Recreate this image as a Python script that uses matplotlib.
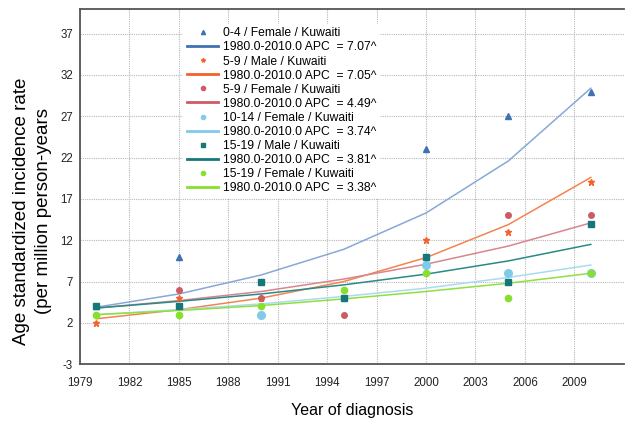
import numpy as np
import matplotlib
matplotlib.use("Agg")
import matplotlib.pyplot as plt
from matplotlib.lines import Line2D

plt.rcParams['font.family'] = ['Liberation Sans', 'DejaVu Sans']
plt.rcParams['axes.unicode_minus'] = False

nan = np.nan
years = [1980, 1985, 1990, 1995, 2000, 2005, 2010]

labels = ["0-4 / Female / Kuwaiti", "5-9 / Male / Kuwaiti", "5-9 / Female / Kuwaiti",
          "10-14 / Female / Kuwaiti", "15-19 / Male / Kuwaiti", "15-19 / Female / Kuwaiti"]
apc_labels = ["1980.0-2010.0 APC  = 7.07^", "1980.0-2010.0 APC  = 7.05^",
              "1980.0-2010.0 APC  = 4.49^", "1980.0-2010.0 APC  = 3.74^",
              "1980.0-2010.0 APC  = 3.81^", "1980.0-2010.0 APC  = 3.38^"]

obs_0_4_f = [4, 10, nan, nan, 23, 27, 30]
obs_5_9_m = [2, 5, 5, nan, 12, 13, 19]
obs_5_9_f = [nan, 6, 5, 3, 10, 15, 15]
obs_10_14_f = [nan, nan, 3, nan, 9, 8, 8]
obs_15_19_m = [4, 4, 7, 5, 10, 7, 14]
obs_15_19_f = [3, 3, 4, 6, 8, 5, 8]

fit_0_4_f = [3.9, 5.5, 7.8, 10.9, 15.3, 21.6, 30.4]
fit_5_9_m = [2.5, 3.6, 5.0, 7.0, 9.9, 13.9, 19.6]
fit_5_9_f = [3.8, 4.7, 5.8, 7.3, 9.1, 11.3, 14.1]
fit_10_14_f = [3.0, 3.6, 4.3, 5.2, 6.2, 7.5, 9.0]
fit_15_19_m = [3.8, 4.6, 5.5, 6.6, 7.9, 9.5, 11.5]
fit_15_19_f = [3.0, 3.5, 4.1, 4.9, 5.8, 6.8, 8.0]

obs = [obs_0_4_f, obs_5_9_m, obs_5_9_f, obs_10_14_f, obs_15_19_m, obs_15_19_f]
fits = [fit_0_4_f, fit_5_9_m, fit_5_9_f, fit_10_14_f, fit_15_19_m, fit_15_19_f]

mcolors = ["#3f72b3", "#f4622a", "#cc5b66", "#80cbea", "#16777a", "#86e02d"]
lcolors = ["#86a9d6", "#f4844f", "#d7868c", "#a9dbf0", "#2a8a86", "#8fe03e"]
markers = ["^", "*", "o", "o", "s", "o"]
msizes = [4.5, 4.5, 4, 5.5, 4.5, 4.5]

yticks = [-3, 2, 7, 12, 17, 22, 27, 32, 37]
xticks = [1979, 1982, 1985, 1988, 1991, 1994, 1997, 2000, 2003, 2006, 2009]

fig = plt.figure(figsize=(6.25, 4.23), dpi=100)
ax = fig.add_axes([0.128, 0.139, 0.870, 0.840])

handles = []
hlabels = []
for i in range(6):
    ax.plot(years, fits[i], color=lcolors[i], lw=1.1, zorder=2)
for i in range(6):
    ax.plot(years, obs[i], linestyle="none", marker=markers[i], ms=msizes[i],
            color=mcolors[i], zorder=3)
    handles.append(Line2D([], [], linestyle="none", marker=markers[i], ms=3,
                          color=mcolors[i]))
    hlabels.append(labels[i])
    handles.append(Line2D([], [], color=mcolors[i], lw=2))
    hlabels.append(apc_labels[i])

ax.set_xlim(1979, 2012)
ax.set_ylim(-3, 40)
ax.set_xticks(xticks)
ax.set_yticks(yticks)
ax.tick_params(length=0, labelsize=8.3, colors="#222222")
ax.tick_params(axis="x", pad=9)
ax.tick_params(axis="y", pad=5)
ax.grid(True, linestyle=(0, (1, 1)), color="#b8b8b8", lw=0.8)
ax.set_axisbelow(True)
for s in ["left", "bottom", "top"]:
    ax.spines[s].set_color("#555555")
    ax.spines[s].set_linewidth(1.3)
ax.spines["right"].set_visible(False)

ax.set_xlabel("Year of diagnosis", fontsize=11.5)
ax.xaxis.set_label_coords(0.5, -0.11)
ax.set_ylabel("Age standardized incidence rate\n(per million person-years", fontsize=13.5,
              linespacing=1.4)
ax.yaxis.set_label_coords(-0.052, 0.43)

leg = ax.legend(handles, hlabels, loc="upper left", bbox_to_anchor=(0.19, 0.958),
                frameon=True, fontsize=8.7, handlelength=2.6, handletextpad=0.4,
                labelspacing=0.17, borderpad=0.3, borderaxespad=0)
leg.get_frame().set_edgecolor("none")
leg.get_frame().set_facecolor("white")
leg.get_frame().set_alpha(1)

fig.savefig("out.png", dpi=100)
